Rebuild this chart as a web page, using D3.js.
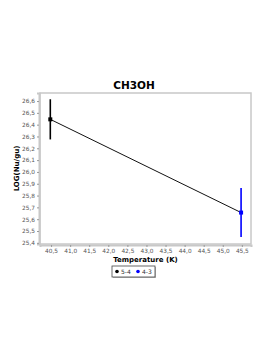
<!DOCTYPE html>
<html>
<head>
<meta charset="utf-8">
<script src="https://cdn.jsdelivr.net/npm/d3@7"></script>
<style>
  body { margin: 0; background: #fff; }
  text { font-family: "DejaVu Sans", sans-serif; }
</style>
</head>
<body>
<div id="chart"></div>
<script>
const width = 274,
  height = 355,
  margin = { top: 93, bottom: 111, left: 40, right: 23 };

// data
const seriesNames = ["5-4", "4-3"];
const seriesColors = ["#000000", "#0000ff"];
const temps = [40.48, 45.48];
const logNu = [26.445, 25.656];
const errs = [0.17, 0.207];
const xTicks = [40.5, 41.0, 41.5, 42.0, 42.5, 43.0, 43.5, 44.0, 44.5, 45.0, 45.5];
const yTicks = [25.4, 25.5, 25.6, 25.7, 25.8, 25.9, 26.0, 26.1, 26.2, 26.3, 26.4, 26.5, 26.6];

const points = temps.map((t, i) => ({ x: t, y: logNu[i], e: errs[i], name: seriesNames[i], color: seriesColors[i] }));

const locale = d3.formatLocale({ decimal: ",", thousands: ".", grouping: [3], currency: ["", ""] });
const fmt = locale.format(".1f");

const xScale = d3.scaleLinear()
  .domain([40.21, 45.74])
  .range([margin.left, width - margin.right]);

const yScale = d3.scaleLinear()
  .domain([25.39, 26.668])
  .range([height - margin.bottom, margin.top]);

const svg = d3.select("#chart")
  .append("svg")
  .attr("width", width)
  .attr("height", height);

// plot frame
svg.append("rect")
  .attr("x", margin.left)
  .attr("y", margin.top)
  .attr("width", width - margin.left - margin.right)
  .attr("height", height - margin.top - margin.bottom)
  .attr("fill", "#fff")
  .attr("stroke", "#c8c8c8")
  .attr("stroke-width", 1.5);

const xAxis = d3.axisBottom(xScale)
  .tickValues(xTicks)
  .tickFormat(fmt)
  .tickSize(2)
  .tickPadding(2);

const yAxis = d3.axisLeft(yScale)
  .tickValues(yTicks)
  .tickFormat(fmt)
  .tickSize(2)
  .tickPadding(2);

const xAxisGroup = svg.append("g")
  .attr("transform", `translate(0, ${height - margin.bottom + 1})`)
  .call(xAxis);

const yAxisGroup = svg.append("g")
  .attr("transform", `translate(${margin.left - 1}, 0)`)
  .call(yAxis);

[xAxisGroup, yAxisGroup].forEach(g => {
  g.select(".domain").attr("stroke", "#c8c8c8").attr("stroke-width", 2);
  g.selectAll(".tick line").attr("stroke", "#999");
  g.selectAll(".tick text").attr("fill", "#555").attr("font-size", 5.8);
});

// connecting line
svg.append("path")
  .datum(points)
  .attr("fill", "none")
  .attr("stroke", "#111")
  .attr("stroke-width", 1)
  .attr("d", d3.line().x(d => xScale(d.x)).y(d => yScale(d.y)));

// error bars
svg.selectAll(".err")
  .data(points)
  .join("line")
  .attr("class", "err")
  .attr("x1", d => xScale(d.x))
  .attr("x2", d => xScale(d.x))
  .attr("y1", d => yScale(d.y + d.e))
  .attr("y2", d => yScale(d.y - d.e))
  .attr("stroke", d => d.color)
  .attr("stroke-width", 1.6);

svg.selectAll(".pt")
  .data(points)
  .join("rect")
  .attr("class", "pt")
  .attr("x", d => xScale(d.x) - 2)
  .attr("y", d => yScale(d.y) - 2)
  .attr("width", 4)
  .attr("height", 4)
  .attr("fill", d => d.color);

// title
svg.append("text")
  .attr("x", 134)
  .attr("y", 89)
  .attr("text-anchor", "middle")
  .attr("font-size", 10.5)
  .attr("font-weight", "bold")
  .attr("fill", "#000")
  .text("CH3OH");

svg.append("text")
  .attr("x", (margin.left + width - margin.right) / 2)
  .attr("y", 262)
  .attr("text-anchor", "middle")
  .attr("font-size", 7)
  .attr("font-weight", "bold")
  .text("Temperature (K)");

svg.append("text")
  .attr("transform", `translate(${19}, ${(margin.top + height - margin.bottom) / 2})rotate(-90)`)
  .attr("text-anchor", "middle")
  .attr("font-size", 7)
  .attr("font-weight", "bold")
  .text("LOG(Nu/gu)");

// legend
const legend = svg.append("g").attr("transform", "translate(112, 266)");
legend.append("rect")
  .attr("x", 1).attr("y", 1)
  .attr("width", 43).attr("height", 11)
  .attr("fill", "#bbb");
legend.append("rect")
  .attr("width", 43).attr("height", 11)
  .attr("fill", "#fff")
  .attr("stroke", "#444")
  .attr("stroke-width", 0.8);
const items = legend.selectAll(".item")
  .data(points)
  .join("g")
  .attr("transform", (d, i) => `translate(${5 + i * 21}, 5.5)`);
items.append("circle")
  .attr("r", 1.8)
  .attr("fill", d => d.color);
items.append("text")
  .attr("x", 4)
  .attr("y", 2.2)
  .attr("font-size", 6)
  .attr("fill", "#333")
  .text(d => d.name);
</script>
</body>
</html>
